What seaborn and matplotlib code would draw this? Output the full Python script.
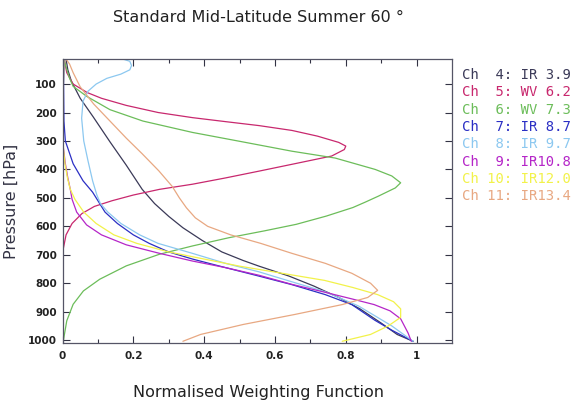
import numpy as np
import pandas as pd
import matplotlib
matplotlib.use("Agg")
import matplotlib.pyplot as plt
import seaborn as sns

# channel labels and colours
channels = ["Ch  4: IR 3.9", "Ch  5: WV 6.2", "Ch  6: WV 7.3", "Ch  7: IR 8.7",
            "Ch  8: IR 9.7", "Ch  9: IR10.8", "Ch 10: IR12.0", "Ch 11: IR13.4"]
colours = ["#3b3a58", "#c8286e", "#6cbd5a", "#2b2fc4",
           "#8cc8f0", "#b526c8", "#f2f24a", "#e8a882"]

# weighting functions: pressure [hPa] and value
p_ch4 = [12, 50, 90, 150, 216, 303, 385, 470, 520, 565, 605, 650, 690, 720, 740,
         775, 810, 850, 890, 940, 980, 1004]
w_ch4 = [0.01, 0.015, 0.025, 0.05, 0.087, 0.134, 0.18, 0.225, 0.26, 0.30, 0.34,
         0.395, 0.45, 0.51, 0.555, 0.64, 0.71, 0.78, 0.84, 0.90, 0.945, 0.99]

p_ch5 = [12, 60, 100, 130, 150, 175, 200, 218, 232, 246, 263, 283, 305, 318,
         330, 353, 382, 406, 430, 452, 470, 490, 510, 530, 555, 590, 630, 680, 720, 1004]
w_ch5 = [0.005, 0.012, 0.03, 0.07, 0.11, 0.18, 0.27, 0.367, 0.46, 0.555, 0.648, 0.72,
         0.78, 0.80, 0.796, 0.76, 0.648, 0.555, 0.46, 0.367, 0.274, 0.20, 0.14, 0.09,
         0.055, 0.027, 0.01, 0.002, 0.0, 0.0]

p_ch6 = [12, 40, 80, 108, 143, 190, 230, 270, 303, 336, 360, 400, 423, 447, 465,
         494, 515, 534, 564, 593, 616, 640, 669, 698, 739, 786, 827, 874, 932, 990, 1004]
w_ch6 = [0.004, 0.01, 0.02, 0.03, 0.068, 0.134, 0.227, 0.367, 0.508, 0.648, 0.77,
         0.883, 0.93, 0.955, 0.94, 0.892, 0.855, 0.82, 0.745, 0.66, 0.57, 0.47, 0.367,
         0.274, 0.18, 0.105, 0.059, 0.03, 0.012, 0.004, 0.002]

p_ch7 = [12, 100, 230, 300, 380, 440, 480, 510, 550, 590, 630, 660, 690, 715, 745,
         775, 805, 840, 875, 930, 965, 1004]
w_ch7 = [0.005, 0.003, 0.004, 0.008, 0.03, 0.058, 0.085, 0.10, 0.12, 0.155, 0.2,
         0.245, 0.30, 0.367, 0.46, 0.555, 0.648, 0.742, 0.817, 0.882, 0.93, 0.99]

p_ch8 = [12, 20, 35, 50, 65, 80, 100, 125, 160, 220, 300, 370, 440, 490, 520, 550,
         590, 630, 660, 695, 730, 760, 795, 830, 880, 950, 1004]
w_ch8 = [0.17, 0.19, 0.195, 0.19, 0.165, 0.125, 0.095, 0.072, 0.058, 0.054, 0.06,
         0.072, 0.085, 0.097, 0.107, 0.128, 0.165, 0.218, 0.27, 0.367, 0.46, 0.555,
         0.648, 0.742, 0.836, 0.93, 0.99]

p_ch9 = [12, 300, 380, 430, 470, 505, 550, 595, 630, 665, 695, 722, 745, 772, 804,
         832, 855, 875, 897, 925, 975, 1004]
w_ch9 = [0.003, 0.0, 0.008, 0.015, 0.022, 0.027, 0.04, 0.068, 0.11, 0.18, 0.274,
         0.367, 0.46, 0.555, 0.648, 0.742, 0.817, 0.88, 0.925, 0.955, 0.976, 0.985]

p_ch10 = [12, 250, 320, 380, 430, 470, 505, 550, 590, 630, 660, 690, 715, 740, 765,
          790, 815, 840, 865, 890, 920, 950, 980, 1004]
w_ch10 = [0.004, 0.0, 0.002, 0.007, 0.014, 0.022, 0.035, 0.06, 0.095, 0.145, 0.21,
          0.30, 0.40, 0.50, 0.62, 0.74, 0.82, 0.89, 0.935, 0.955, 0.955, 0.92, 0.87, 0.79]

p_ch11 = [12, 30, 60, 110, 170, 230, 290, 345, 405, 460, 500, 535, 570, 600, 630, 660,
          695, 730, 765, 800, 825, 850, 875, 910, 945, 980, 1004]
w_ch11 = [0.01, 0.02, 0.03, 0.05, 0.088, 0.134, 0.18, 0.225, 0.272, 0.31, 0.33,
          0.35, 0.375, 0.41, 0.475, 0.56, 0.648, 0.742, 0.817, 0.87, 0.89, 0.862, 0.79,
          0.655, 0.51, 0.39, 0.34]

pressures = [p_ch4, p_ch5, p_ch6, p_ch7, p_ch8, p_ch9, p_ch10, p_ch11]
weights = [w_ch4, w_ch5, w_ch6, w_ch7, w_ch8, w_ch9, w_ch10, w_ch11]

rows = []
for name, ps, ws in zip(channels, pressures, weights):
    for p, w in zip(ps, ws):
        rows.append({"channel": name, "p": p, "w": w})
df = pd.DataFrame(rows)

sns.set_style("ticks")
plt.rcParams["font.family"] = ["DejaVu Sans"]

fig = plt.figure(figsize=(5.87, 4.09), dpi=100)
ax = fig.add_axes([0.1065, 0.1614, 0.6635, 0.6943])

sns.lineplot(data=df, x="w", y="p", hue="channel", palette=colours,
             orient="y", sort=False, estimator=None, linewidth=0.9,
             legend=False, ax=ax)

ax.set_xlim(0, 1.1)
ax.set_ylim(1010, 12)
ax.set_xticks([0, 0.2, 0.4, 0.6, 0.8, 1.0])
ax.set_xticklabels(["0", "0.2", "0.4", "0.6", "0.8", "1"])
ax.set_xticks(np.arange(0.1, 1.1, 0.2), minor=True)
ax.set_yticks(np.arange(100, 1001, 100))
ax.tick_params(which="both", direction="in", top=True, right=True,
               colors="#333344", labelcolor="#222222", width=0.8)
ax.tick_params(which="major", length=5)
ax.tick_params(which="minor", length=3)
ax.tick_params(axis="x", pad=6, labelsize=7.5)
ax.tick_params(axis="y", pad=4, labelsize=7.5)
for lab in ax.get_xticklabels() + ax.get_yticklabels():
    lab.set_fontweight("bold")
for s in ax.spines.values():
    s.set_color("#555566")
    s.set_linewidth(0.9)

ax.set_xlabel("")
ax.set_ylabel("Pressure [hPa]", fontsize=11.5, color="#333344")
ax.yaxis.set_label_coords(-0.112, 0.5)
fig.text(0.44, 1 - 393 / 409, "Normalised Weighting Function", ha="center",
         va="center", fontsize=11.5, color="#222222")
fig.text(0.44, 1 - 18 / 409, "Standard Mid-Latitude Summer 60 °", ha="center",
         va="center", fontsize=11.5, color="#222222")

for i, (name, col) in enumerate(zip(channels, colours)):
    fig.text(462 / 587, 1 - (75 + 17.3 * i) / 409, name, ha="left", va="center",
             fontsize=10, color=col, family="DejaVu Sans Mono")

fig.savefig("out.png", dpi=100)
